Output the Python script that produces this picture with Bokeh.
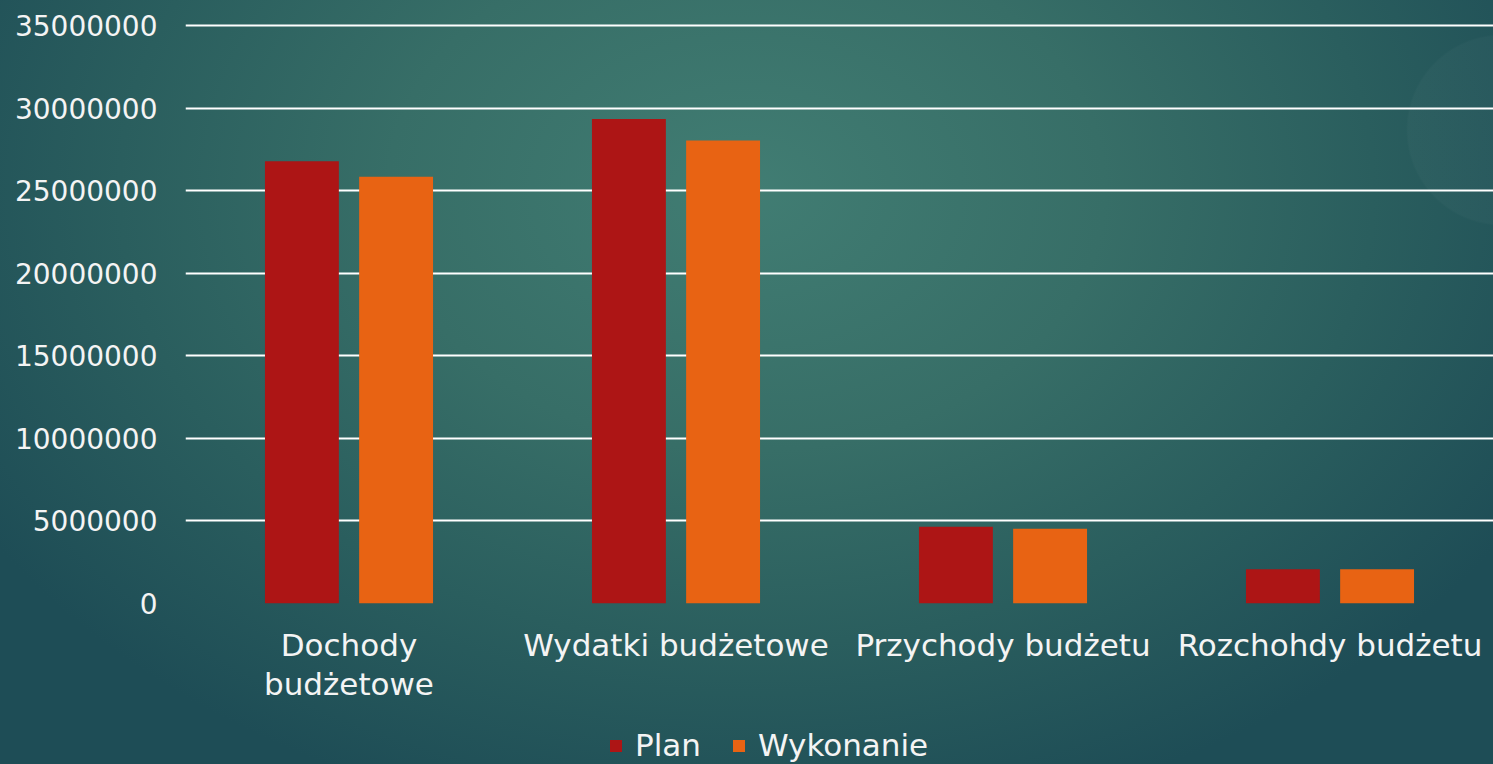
from bokeh.plotting import figure
from bokeh.layouts import column
from bokeh.models import (FactorRange, Range1d, FixedTicker, Legend, LegendItem,
                          ColumnDataSource, InlineStyleSheet, CategoricalAxis,
                          CustomJSTickFormatter)
from bokeh.transform import dodge
from bokeh.embed import file_html
from bokeh.resources import INLINE

categories = ["Dochody budżetowe", "Wydatki budżetowe", "Przychody budżetu", "Rozchohdy budżetu"]
label_line1 = ["Dochody", "Wydatki budżetowe", "Przychody budżetu", "Rozchohdy budżetu"]
label_line2 = ["budżetowe", "", "", ""]
plan = [26800000, 29350000, 4650000, 2080000]
wykonanie = [25850000, 28050000, 4530000, 2080000]
y_ticks = [0, 5000000, 10000000, 15000000, 20000000, 25000000, 30000000, 35000000]
y_tick_labels = ["0", "5000000", "10000000", "15000000", "20000000", "25000000", "30000000", "35000000"]
series_names = ["Plan", "Wykonanie"]
colors = ["#ad1515", "#e86313"]

FONT = "DejaVu Sans ExtraLight, DejaVu Sans"
TXT = "#f4f4f4"

BG = """
:host {
  background:
    radial-gradient(circle at 1502px 130px, rgba(255,255,255,0.025) 0 94px, rgba(0,0,0,0) 96px),
    radial-gradient(ellipse 60% 85% at 50% 25%, #417d73 0%, #376e67 40%, #2a5e5e 70%, #1e4d56 100%);
  background-size: 1493px 764px;
  background-repeat: no-repeat;
  background-position: 0px OFFSETpx;
}
"""

src = ColumnDataSource(dict(cat=categories, plan=plan, wyk=wykonanie))
xr = FactorRange(*categories, range_padding=0)

p = figure(width=1493, height=712, x_range=xr,
           y_range=Range1d(0, 35200000), output_backend="svg", toolbar_location=None,
           min_border_left=185, min_border_right=0, min_border_top=22, min_border_bottom=109,
           background_fill_color=None, border_fill_color=None, outline_line_color=None,
           stylesheets=[InlineStyleSheet(css=BG.replace("OFFSET", "0"))])

r1 = p.vbar(x=dodge("cat", -0.144, range=xr), top="plan", width=0.226, source=src,
            fill_color=colors[0], line_color=None)
r2 = p.vbar(x=dodge("cat", 0.144, range=xr), top="wyk", width=0.226, source=src,
            fill_color=colors[1], line_color=None)

p.xgrid.grid_line_color = None
p.ygrid.grid_line_color = "white"
p.ygrid.grid_line_width = 2
p.ygrid.ticker = FixedTicker(ticks=y_ticks)

p.yaxis.ticker = FixedTicker(ticks=y_ticks)
p.yaxis.major_label_overrides = {t: l for t, l in zip(y_ticks, y_tick_labels)}
p.yaxis.axis_line_color = None
p.yaxis.major_tick_line_color = None
p.yaxis.minor_tick_line_color = None
p.yaxis.major_tick_out = 0
p.yaxis.major_tick_in = 0
p.yaxis.major_label_standoff = 28
p.yaxis.major_label_text_font = FONT
p.yaxis.major_label_text_font_size = "28px"
p.yaxis.major_label_text_color = TXT

fmt1 = CustomJSTickFormatter(args=dict(cats=categories, labs=label_line1),
                             code="const i = cats.indexOf(tick); return i >= 0 ? labs[i] : '';")
fmt2 = CustomJSTickFormatter(args=dict(cats=categories, labs=label_line2),
                             code="const i = cats.indexOf(tick); return i >= 0 ? labs[i] : '';")

xa = p.xaxis[0]
xa.formatter = fmt1
xa.axis_line_color = None
xa.major_tick_line_color = None
xa.minor_tick_line_color = None
xa.major_tick_out = 0
xa.major_tick_in = 0
xa.major_label_standoff = 23
xa.major_label_text_font = FONT
xa.major_label_text_font_size = "31px"
xa.major_label_text_color = TXT

xa2 = CategoricalAxis(formatter=fmt2,
                      axis_line_color=None, major_tick_line_color=None, minor_tick_line_color=None,
                      major_tick_out=0, major_tick_in=0, major_label_standoff=0,
                      major_label_text_font=FONT, major_label_text_font_size="31px",
                      major_label_text_color=TXT)
p.add_layout(xa2, "below")

# legend strip below the chart (its bars lie outside its visible range)
p2 = figure(width=1493, height=52, x_range=xr, y_range=Range1d(-1, 0),
            x_axis_type=None, y_axis_type=None, output_backend="svg", toolbar_location=None,
            min_border=0, min_border_left=0, min_border_right=0, min_border_top=0, min_border_bottom=0,
            background_fill_color=None, border_fill_color=None, outline_line_color=None,
            stylesheets=[InlineStyleSheet(css=BG.replace("OFFSET", "-712"))])
lr1 = p2.vbar(x=dodge("cat", -0.144, range=xr), top="plan", width=0.226, source=src,
              fill_color=colors[0], line_color=None)
lr2 = p2.vbar(x=dodge("cat", 0.144, range=xr), top="wyk", width=0.226, source=src,
              fill_color=colors[1], line_color=None)

legend = Legend(items=[LegendItem(label=series_names[0], renderers=[lr1]),
                       LegendItem(label=series_names[1], renderers=[lr2])],
                orientation="horizontal", location=(423, 1),
                padding=0, margin=0, spacing=30, label_standoff=12,
                glyph_width=15, glyph_height=15, label_height=15,
                border_line_color=None, background_fill_color=None,
                label_text_font=FONT, label_text_font_size="31px",
                label_text_color=TXT)
p2.add_layout(legend, "center")

layout = column(p, p2, spacing=0)
open("out.html", "w").write(file_html(layout, INLINE))
